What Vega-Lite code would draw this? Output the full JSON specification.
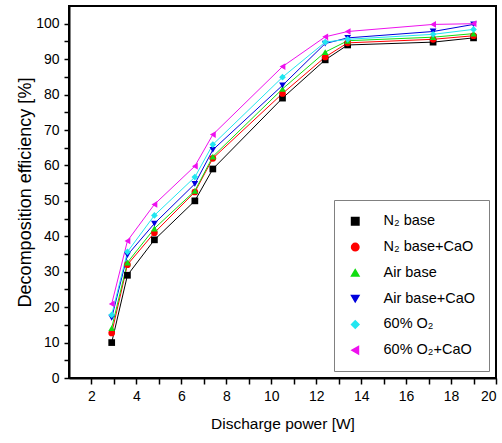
{
  "$schema": "https://vega.github.io/schema/vega-lite/v6.json",
  "width": 427,
  "height": 372,
  "autosize": {"type": "none"},
  "padding": {"left": 69, "top": 6, "right": 6, "bottom": 65},
  "background": "white",
  "config": {
    "view": {"stroke": "black", "strokeWidth": 2},
    "font": "Liberation Sans"
  },
  "data": {
    "values": [
      {"series": "N₂ base", "power": 2.9, "eff": 10},
      {"series": "N₂ base", "power": 3.6, "eff": 29},
      {"series": "N₂ base", "power": 4.8, "eff": 39},
      {"series": "N₂ base", "power": 6.6, "eff": 50},
      {"series": "N₂ base", "power": 7.4, "eff": 59},
      {"series": "N₂ base", "power": 10.5, "eff": 79},
      {"series": "N₂ base", "power": 12.4, "eff": 89.8},
      {"series": "N₂ base", "power": 13.4, "eff": 94},
      {"series": "N₂ base", "power": 17.2, "eff": 94.8},
      {"series": "N₂ base", "power": 19.0, "eff": 96},
      {"series": "N₂ base+CaO", "power": 2.9, "eff": 12.7},
      {"series": "N₂ base+CaO", "power": 3.6, "eff": 32},
      {"series": "N₂ base+CaO", "power": 4.8, "eff": 41},
      {"series": "N₂ base+CaO", "power": 6.6, "eff": 52.5},
      {"series": "N₂ base+CaO", "power": 7.4, "eff": 62},
      {"series": "N₂ base+CaO", "power": 10.5, "eff": 80.3},
      {"series": "N₂ base+CaO", "power": 12.4, "eff": 90.6},
      {"series": "N₂ base+CaO", "power": 13.4, "eff": 94.6},
      {"series": "N₂ base+CaO", "power": 17.2, "eff": 95.6},
      {"series": "N₂ base+CaO", "power": 19.0, "eff": 96.6},
      {"series": "Air base", "power": 2.9, "eff": 14.1},
      {"series": "Air base", "power": 3.6, "eff": 32.6},
      {"series": "Air base", "power": 4.8, "eff": 42.2},
      {"series": "Air base", "power": 6.6, "eff": 52.8},
      {"series": "Air base", "power": 7.4, "eff": 62.5},
      {"series": "Air base", "power": 10.5, "eff": 81.6},
      {"series": "Air base", "power": 12.4, "eff": 92},
      {"series": "Air base", "power": 13.4, "eff": 95.2},
      {"series": "Air base", "power": 17.2, "eff": 96.2},
      {"series": "Air base", "power": 19.0, "eff": 97.2},
      {"series": "Air base+CaO", "power": 2.9, "eff": 17},
      {"series": "Air base+CaO", "power": 3.6, "eff": 34.7},
      {"series": "Air base+CaO", "power": 4.8, "eff": 43.6},
      {"series": "Air base+CaO", "power": 6.6, "eff": 54.8},
      {"series": "Air base+CaO", "power": 7.4, "eff": 64.4},
      {"series": "Air base+CaO", "power": 10.5, "eff": 82.6},
      {"series": "Air base+CaO", "power": 12.4, "eff": 94.4},
      {"series": "Air base+CaO", "power": 13.4, "eff": 96},
      {"series": "Air base+CaO", "power": 17.2, "eff": 97.8},
      {"series": "Air base+CaO", "power": 19.0, "eff": 99.8},
      {"series": "60% O₂", "power": 2.9, "eff": 17.8},
      {"series": "60% O₂", "power": 3.6, "eff": 35.6},
      {"series": "60% O₂", "power": 4.8, "eff": 45.9},
      {"series": "60% O₂", "power": 6.6, "eff": 56.7},
      {"series": "60% O₂", "power": 7.4, "eff": 65.9},
      {"series": "60% O₂", "power": 10.5, "eff": 84.9},
      {"series": "60% O₂", "power": 12.4, "eff": 94.8},
      {"series": "60% O₂", "power": 13.4, "eff": 95.6},
      {"series": "60% O₂", "power": 17.2, "eff": 97},
      {"series": "60% O₂", "power": 19.0, "eff": 98.4},
      {"series": "60% O₂+CaO", "power": 2.9, "eff": 20.9},
      {"series": "60% O₂+CaO", "power": 3.6, "eff": 38.7},
      {"series": "60% O₂+CaO", "power": 4.8, "eff": 49},
      {"series": "60% O₂+CaO", "power": 6.6, "eff": 59.8},
      {"series": "60% O₂+CaO", "power": 7.4, "eff": 68.7},
      {"series": "60% O₂+CaO", "power": 10.5, "eff": 87.9},
      {"series": "60% O₂+CaO", "power": 12.4, "eff": 96.3},
      {"series": "60% O₂+CaO", "power": 13.4, "eff": 97.8},
      {"series": "60% O₂+CaO", "power": 17.2, "eff": 99.8},
      {"series": "60% O₂+CaO", "power": 19.0, "eff": 100}
    ]
  },
  "encoding": {
    "x": {
      "field": "power",
      "type": "quantitative",
      "scale": {"domain": [1, 20], "nice": false, "zero": false},
      "axis": {
        "title": "Discharge power [W]",
        "values": [2,3,4,5,6,7,8,9,10,11,12,13,14,15,16,17,18,19,20],
        "labelExpr": "datum.value % 2 === 0 ? datum.label : ''",
        "grid": false,
        "tickSize": 6,
        "tickColor": "black",
        "tickWidth": 1.5,
        "domainColor": "black",
        "domainWidth": 2,
        "labelFont": "Liberation Sans",
        "labelFontSize": 14,
        "labelColor": "black",
        "labelPadding": 5,
        "labelFlush": true,
        "labelOverlap": false,
        "titleFont": "Liberation Sans",
        "titleFontSize": 15.5,
        "titleFontWeight": "normal",
        "titleColor": "black",
        "titlePadding": 13,
        "encode": {"ticks": {"update": {"y2": {"signal": "datum.value % 2 === 0 ? 6 : 4"}}}}
      }
    },
    "y": {
      "field": "eff",
      "type": "quantitative",
      "scale": {"domain": [0, 105], "nice": false},
      "axis": {
        "title": "Decomposition efficiency [%]",
        "values": [0,5,10,15,20,25,30,35,40,45,50,55,60,65,70,75,80,85,90,95,100],
        "labelExpr": "datum.value % 10 === 0 ? datum.label : ''",
        "grid": false,
        "tickSize": 5,
        "tickColor": "black",
        "tickWidth": 1.5,
        "domainColor": "black",
        "domainWidth": 2,
        "labelFont": "Liberation Sans",
        "labelFontSize": 14,
        "labelColor": "black",
        "labelPadding": 5,
        "labelFlush": false,
        "labelOverlap": false,
        "titleFont": "Liberation Sans",
        "titleFontSize": 18,
        "titleFontWeight": "normal",
        "titleColor": "black",
        "titlePadding": 1,
        "encode": {"ticks": {"update": {"x2": {"signal": "datum.value % 10 === 0 ? -5 : -3"}}}}
      }
    },
    "color": {
      "field": "series",
      "type": "nominal",
      "scale": {
        "domain": ["N₂ base", "N₂ base+CaO", "Air base", "Air base+CaO", "60% O₂", "60% O₂+CaO"],
        "range": ["#000000", "#ff0000", "#11dd11", "#0000dd", "#22e6f0", "#ee11ee"]
      },
      "legend": {
        "title": null,
        "orient": "bottom-right",
        "offset": 7,
        "padding": 14,
        "rowPadding": 10.8,
        "strokeColor": "#808080",
        "fillColor": "white",
        "labelFont": "Liberation Sans",
        "labelFontSize": 14.5,
        "labelColor": "black",
        "symbolSize": 55,
        "symbolOffset": 0,
        "labelOffset": 21
      }
    }
  },
  "layer": [
    {"mark": {"type": "line", "strokeWidth": 1}},
    {
      "mark": {"type": "point", "filled": true, "size": 45, "opacity": 1},
      "encoding": {
        "shape": {
          "field": "series",
          "type": "nominal",
          "scale": {
            "domain": ["N₂ base", "N₂ base+CaO", "Air base", "Air base+CaO", "60% O₂", "60% O₂+CaO"],
            "range": ["square", "circle", "triangle-up", "triangle-down", "diamond", "triangle-left"]
          },
          "legend": null
        }
      }
    }
  ]
}
